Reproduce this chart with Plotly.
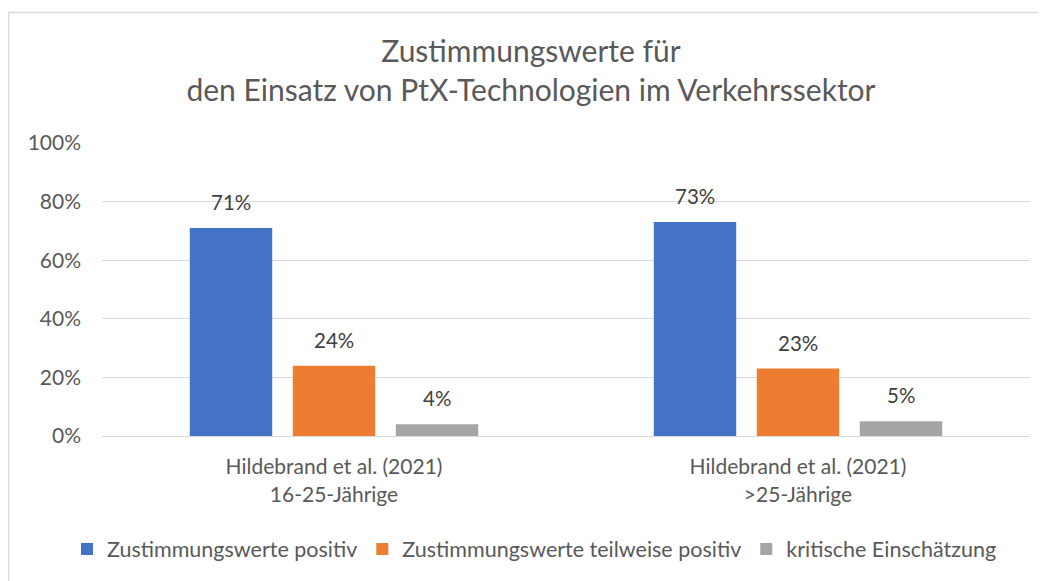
import plotly.graph_objects as go

categories = ["Hildebrand et al. (2021)<br>16-25-Jährige", "Hildebrand et al. (2021)<br>>25-Jährige"]
series_names = ["Zustimmungswerte positiv", "Zustimmungswerte teilweise positiv", "kritische Einschätzung"]
positiv = [0.71, 0.73]
teilweise = [0.24, 0.23]
kritisch = [0.04, 0.05]
colors = ["#4472C4", "#ED7D31", "#A5A5A5"]
tick_vals = [0, 0.2, 0.4, 0.6, 0.8, 1.0]
tick_text = ["0%", "20%", "40%", "60%", "80%", "100%"]

FONT = "Lato, sans-serif"
W, H = 1046, 581
OFF = 8  # page body margin
L, R, T, B = 102 - OFF, 1046 - (1030 - OFF), 143 - OFF, 581 - (436 - OFF)
BARGAP = 0.334

pw = W - L - R
ph = H - T - B
def px(x):
    return (x - OFF - L) / pw
def py(y):
    return (H - B - (y - OFF)) / ph

fig = go.Figure()
all_vals = [positiv, teilweise, kritisch]
for name, vals, col in zip(series_names, all_vals, colors):
    fig.add_trace(go.Bar(
        x=categories, y=vals, name=name, marker=dict(color=col, line=dict(width=0)),
        hoverinfo="name+y",
    ))

# data labels above each bar
cat_px = pw / len(categories)
slot_px = cat_px * (1 - BARGAP) / len(series_names)
annotations = []
for si, vals in enumerate(all_vals):
    for ci, v in enumerate(vals):
        annotations.append(dict(
            x=ci, y=v, xref="x", yref="y", text=f"{round(v*100)}%",
            showarrow=False, xanchor="center", yanchor="bottom",
            xshift=(si - (len(series_names) - 1) / 2) * slot_px, yshift=12,
            font=dict(family=FONT, size=20.5, color="#404040"),
        ))

fig.update_layout(
    width=W, height=H,
    margin=dict(l=L, r=R, t=T, b=B, autoexpand=False),
    paper_bgcolor="white", plot_bgcolor="white",
    barmode="group", bargap=BARGAP, bargroupgap=0.2,
    font=dict(family=FONT, color="#595959", size=20),
    title=dict(text="Zustimmungswerte für<br>den Einsatz von PtX-Technologien im Verkehrssektor",
               x=0.5, xanchor="center", y=1 - 54 / H, yanchor="top",
               font=dict(family=FONT, size=30, color="#595959")),
    showlegend=True,
    legend=dict(orientation="h", x=px(67), xanchor="left",
                y=py(549), yanchor="middle",
                font=dict(family=FONT, size=21.5, color="#595959"), traceorder="normal"),
    xaxis=dict(showgrid=False, showline=True, linecolor="#D9D9D9", linewidth=1,
               ticks="", ticklabelstandoff=12,
               tickfont=dict(family=FONT, size=21, color="#595959")),
    yaxis=dict(range=[0, 1.0], tickvals=tick_vals, ticktext=tick_text,
               showgrid=True, gridcolor="#D9D9D9", gridwidth=1, zeroline=False,
               showline=False, ticks="", ticklabelstandoff=20,
               tickfont=dict(family=FONT, size=21, color="#595959")),
    annotations=annotations,
    shapes=[dict(type="rect", xref="paper", yref="paper",
                 x0=px(8.5), x1=px(1080), y0=py(620), y1=py(12.5),
                 line=dict(color="#D9D9D9", width=1.5), fillcolor="rgba(0,0,0,0)", layer="below")],
)

fig.write_html("out.html")
